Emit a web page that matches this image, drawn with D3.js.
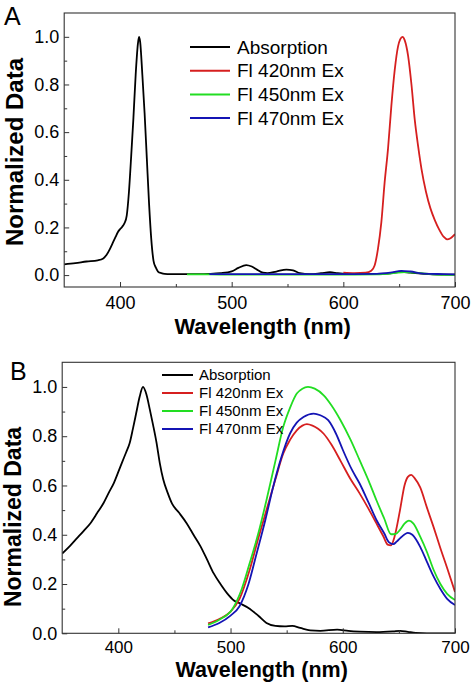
<!DOCTYPE html>
<html>
<head>
<meta charset="utf-8">
<script src="https://cdn.jsdelivr.net/npm/d3@7"></script>
<style>
  html, body { margin: 0; padding: 0; background: #fff; }
  svg { display: block; font-family: "Liberation Sans", Arial, sans-serif; }
</style>
</head>
<body>
<script>
// ---------------- DATA ----------------
const seriesNames = ["Absorption", "Fl 420nm Ex", "Fl 450nm Ex", "Fl 470nm Ex"];
const seriesColors = ["#000000", "#d61f1f", "#22dd22", "#1414b4"];
const xTicks = [400, 500, 600, 700];
const xMinorTicks = [450, 550, 650];
const yTicks = [0.0, 0.2, 0.4, 0.6, 0.8, 1.0];
const yMinorTicks = [0.1, 0.3, 0.5, 0.7, 0.9];

// Panel A
const aAbsWl  = [350,360,370,380,385,388,391,394,396,398,400,402,404,406,408,410,412,414,416,417,418,420,422,424,426,428,430,432,434,437,440,445,450,460,470,480,490,500,506,513,518,523,528,532,540,549,555,561,570,580,588,595,605,620,640,652,660,680,700];
const aAbsVal = [0.045,0.05,0.057,0.062,0.07,0.085,0.11,0.14,0.16,0.18,0.193,0.203,0.218,0.25,0.35,0.50,0.66,0.84,0.97,1.0,0.98,0.84,0.68,0.49,0.30,0.15,0.06,0.032,0.015,0.008,0.005,0.004,0.004,0.004,0.004,0.005,0.008,0.016,0.03,0.042,0.036,0.022,0.01,0.008,0.015,0.023,0.02,0.008,0.004,0.008,0.012,0.008,0.004,0.004,0.006,0.014,0.01,0.003,0.002];

const aF420Wl  = [600,610,620,625,628,631,634,637,640,643,646,649,651,653,655,658,661,664,667,670,674,678,682,686,690,693,696,700];
const aF420Val = [0.01,0.008,0.01,0.018,0.04,0.11,0.22,0.39,0.53,0.71,0.86,0.96,0.99,1.0,0.985,0.92,0.8,0.65,0.54,0.445,0.35,0.28,0.23,0.19,0.16,0.15,0.155,0.172];

const aF450Wl  = [460,480,500,550,600,630,645,655,665,680,700];
const aF450Val = [0.003,0.003,0.002,0.002,0.002,0.003,0.008,0.013,0.01,0.003,0.001];

const aF470Wl  = [480,520,560,600,630,642,652,660,672,690,700];
const aF470Val = [0.004,0.004,0.004,0.004,0.005,0.01,0.018,0.015,0.006,0.004,0.003];

// Panel B
const bAbsWl  = [350,357,363,369,375,381,387,392,396,400,403,407,410,413,416,419,422,425,428,431,434,437,440,444,448,454,461,467,473,479,485,491,497,503,509,517,525,532,540,548,555,562,571,580,595,605,615,630,645,651,658,665,675,700];
const bAbsVal = [0.324,0.355,0.385,0.415,0.446,0.487,0.53,0.575,0.61,0.655,0.69,0.735,0.77,0.83,0.895,0.96,1.0,0.97,0.91,0.845,0.775,0.69,0.625,0.57,0.525,0.49,0.446,0.4,0.355,0.3,0.243,0.2,0.162,0.133,0.12,0.1,0.07,0.042,0.03,0.028,0.03,0.022,0.012,0.01,0.015,0.01,0.007,0.005,0.008,0.01,0.006,0.002,0.0,0.0];

const bF420Wl  = [480,490,500,508,517,525,532,540,547,553,559,564,568,573,578,583,590,598,607,615,623,630,636,640,643,646,651,655,658,661,664,669,675,681,687,693,700];
const bF420Val = [0.04,0.058,0.088,0.14,0.257,0.39,0.5,0.625,0.73,0.785,0.824,0.843,0.849,0.843,0.83,0.81,0.765,0.7,0.625,0.568,0.505,0.446,0.395,0.36,0.357,0.39,0.5,0.6,0.635,0.643,0.63,0.592,0.51,0.43,0.345,0.265,0.168];

const bF450Wl  = [480,490,502,510,517,525,532,540,547,553,559,564,569,575,583,590,598,607,615,623,630,637,643,647,651,655,659,663,669,675,681,687,693,700];
const bF450Val = [0.034,0.055,0.101,0.18,0.284,0.41,0.54,0.7,0.838,0.915,0.973,0.993,1.0,0.993,0.966,0.925,0.865,0.785,0.703,0.62,0.54,0.465,0.402,0.403,0.42,0.445,0.457,0.445,0.392,0.33,0.257,0.2,0.16,0.135];

const bF470Wl  = [480,490,500,508,516,523,531,538,545,553,559,565,574,580,587,594,600,608,615,623,630,637,641,645,648,652,658,662,669,675,681,687,693,700];
const bF470Val = [0.024,0.042,0.072,0.11,0.2,0.32,0.46,0.595,0.71,0.811,0.855,0.878,0.892,0.885,0.865,0.81,0.745,0.665,0.608,0.53,0.46,0.405,0.37,0.362,0.372,0.39,0.408,0.4,0.351,0.29,0.23,0.18,0.14,0.115];

// ---------------- DRAW ----------------
const W = 474, H = 684;
const FONT = '"Liberation Sans", Arial, Helvetica, sans-serif';
const svg = d3.select("body").append("svg").attr("width", W).attr("height", H);

function zip(xs, ys) { return xs.map((x, i) => [x, ys[i]]); }

function drawPanel(cfg) {
  const g = svg.append("g");
  const x = d3.scaleLinear().domain([350, 700]).range([cfg.left, cfg.right]);
  const y = d3.scaleLinear().domain(cfg.yDomain).range([cfg.bottom, cfg.top]);

  const clipId = "clip" + cfg.letter;
  svg.append("clipPath").attr("id", clipId).append("rect")
    .attr("x", cfg.left).attr("y", cfg.top)
    .attr("width", cfg.right - cfg.left).attr("height", cfg.bottom - cfg.top);

  const line = d3.line().x(d => x(d[0])).y(d => y(d[1])).curve(d3.curveMonotoneX);
  const lg = g.append("g").attr("clip-path", `url(#${clipId})`);
  cfg.series.forEach((s, i) => {
    lg.append("path").datum(zip(s[0], s[1]))
      .attr("fill", "none").attr("stroke", seriesColors[i])
      .attr("stroke-width", 1.8).attr("stroke-linejoin", "round")
      .attr("d", line);
  });

  const xa = g.append("g").attr("transform", `translate(0,${cfg.bottom})`)
    .call(d3.axisBottom(x).tickValues(xTicks).tickFormat(d3.format("d"))
      .tickSizeInner(-5).tickSizeOuter(0).tickPadding(cfg.xPad));
  const xm = g.append("g").attr("transform", `translate(0,${cfg.bottom})`)
    .call(d3.axisBottom(x).tickValues(xMinorTicks).tickFormat("")
      .tickSizeInner(-3).tickSizeOuter(0));
  const ya = g.append("g").attr("transform", `translate(${cfg.left},0)`)
    .call(d3.axisLeft(y).tickValues(yTicks).tickFormat(d3.format(".1f"))
      .tickSizeInner(-5).tickSizeOuter(0).tickPadding(cfg.yPad));
  const ym = g.append("g").attr("transform", `translate(${cfg.left},0)`)
    .call(d3.axisLeft(y).tickValues(yMinorTicks).tickFormat("")
      .tickSizeInner(-3).tickSizeOuter(0));
  [xa, xm, ya, ym].forEach(a => {
    a.select(".domain").remove();
    a.selectAll("line").attr("stroke", "#333").attr("stroke-width", 1);
    a.selectAll("text").attr("font-family", FONT).attr("font-size", 18).attr("fill", "#000");
  });
  xa.selectAll("text").attr("font-size", cfg.xTickSize);

  g.append("rect").attr("x", cfg.left).attr("y", cfg.top)
    .attr("width", cfg.right - cfg.left).attr("height", cfg.bottom - cfg.top)
    .attr("fill", "none").attr("stroke", "#333").attr("stroke-width", 1.1);

  g.append("text").attr("x", (cfg.left + cfg.right) / 2 + 3).attr("y", cfg.xTitleY)
    .attr("text-anchor", "middle").attr("font-family", FONT).attr("font-weight", "bold")
    .attr("font-size", cfg.xTitleSize).text("Wavelength (nm)");
  g.append("text").attr("transform", `translate(${cfg.yTitleX},${cfg.yTitleY}) rotate(-90)`)
    .attr("text-anchor", "middle").attr("font-family", FONT).attr("font-weight", "bold")
    .attr("font-size", cfg.yTitleSize).text("Normalized Data");
  g.append("text").attr("x", cfg.letterX).attr("y", cfg.letterY)
    .attr("font-family", FONT).attr("font-size", 25).text(cfg.letter);

  const leg = g.append("g");
  seriesNames.forEach((n, i) => {
    const yy = cfg.legY + i * cfg.legStep;
    leg.append("line").attr("x1", cfg.legX1).attr("x2", cfg.legX2)
      .attr("y1", yy).attr("y2", yy).attr("stroke", seriesColors[i]).attr("stroke-width", 2);
    leg.append("text").attr("x", cfg.legX2 + cfg.legGap).attr("y", yy).attr("dy", "0.35em")
      .attr("font-family", FONT).attr("font-size", cfg.legSize).text(n);
  });
}

drawPanel({
  letter: "A", letterX: 4, letterY: 25,
  left: 64.2, right: 455, top: 13, bottom: 287, yDomain: [-0.05, 1.1], yPad: 5,
  xPad: 9, xTickSize: 18,
  xTitleY: 334, xTitleSize: 22, yTitleX: 23, yTitleY: 152, yTitleSize: 24,
  legX1: 190, legX2: 230, legGap: 7, legY: 47, legStep: 23.7, legSize: 19,
  series: [[aAbsWl, aAbsVal], [aF420Wl, aF420Val], [aF450Wl, aF450Val], [aF470Wl, aF470Val]]
});

drawPanel({
  letter: "B", letterX: 10, letterY: 380,
  left: 62.2, right: 455, top: 362.3, bottom: 633.3, yDomain: [0, 1.1], yPad: 5,
  xPad: 8, xTickSize: 17,
  xTitleY: 677, xTitleSize: 21.5, yTitleX: 21, yTitleY: 517, yTitleSize: 23,
  legX1: 162, legX2: 193, legGap: 6, legY: 375, legStep: 18, legSize: 15,
  series: [[bAbsWl, bAbsVal], [bF420Wl, bF420Val], [bF450Wl, bF450Val], [bF470Wl, bF470Val]]
});
</script>
</body>
</html>
